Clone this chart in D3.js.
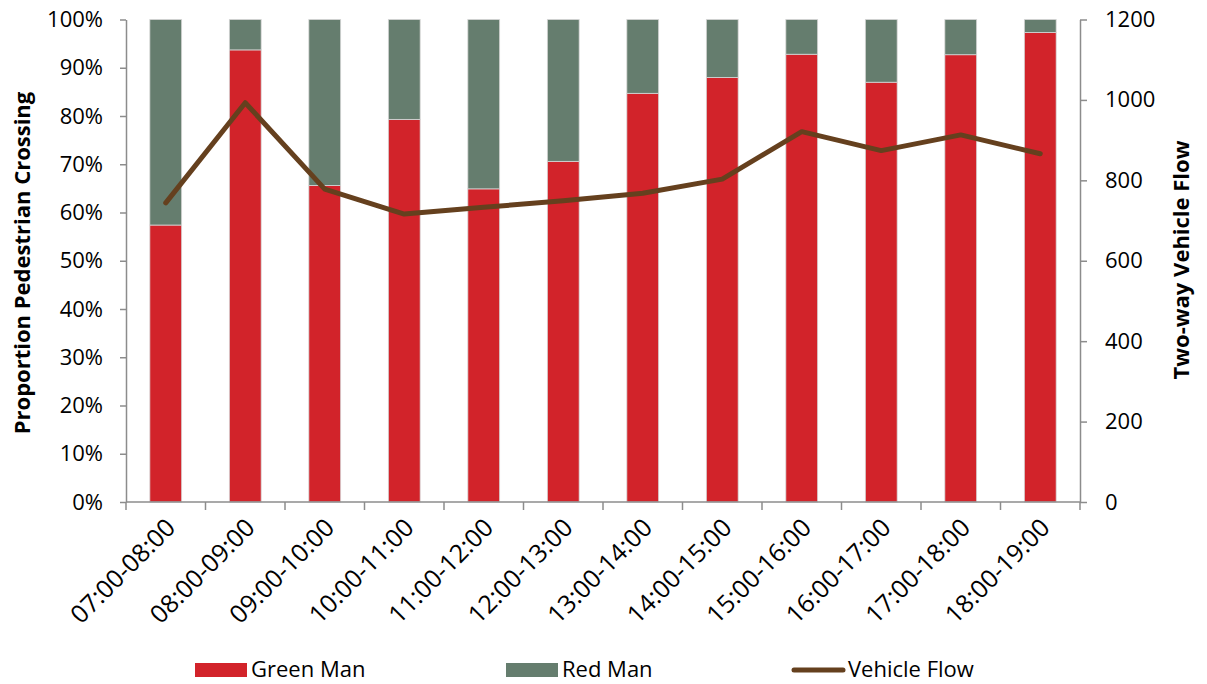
<!DOCTYPE html>
<html>
<head>
<meta charset="utf-8">
<script src="https://cdn.jsdelivr.net/npm/d3@7"></script>
<style>
  html, body { margin: 0; padding: 0; background: #fff; }
  svg { display: block; font-family: "Open Sans", "Noto Sans", sans-serif; }
</style>
</head>
<body>
<svg id="chart" width="1207" height="684"></svg>
<script>
// Hourly periods
const categories = ["07:00-08:00", "08:00-09:00", "09:00-10:00", "10:00-11:00",
  "11:00-12:00", "12:00-13:00", "13:00-14:00", "14:00-15:00",
  "15:00-16:00", "16:00-17:00", "17:00-18:00", "18:00-19:00"];

// Share of pedestrians crossing on the green man (remainder crossed on red)
const greenMan = [0.574, 0.937, 0.656, 0.793, 0.649, 0.706, 0.847, 0.880, 0.928, 0.870, 0.927, 0.973];
const redMan = greenMan.map(g => 1 - g);

// Two-way vehicle flow per hour
const vehicleFlow = [744, 993, 778, 716, 733, 749, 768, 803, 921, 874, 913, 866];

const leftTicks = [0, 0.1, 0.2, 0.3, 0.4, 0.5, 0.6, 0.7, 0.8, 0.9, 1.0];
const rightTicks = [0, 200, 400, 600, 800, 1000, 1200];

const colors = { green: "#D2232A", red: "#657D6E", line: "#65401E", axis: "#8C8C8C" };

const svg = d3.select("#chart");
const plot = { left: 126, right: 1080, top: 19.5, bottom: 502 };

const x = d3.scaleBand().domain(categories)
  .range([plot.left, plot.right]).paddingInner(0.6).paddingOuter(0.3);
const yL = d3.scaleLinear().domain([0, 1]).range([plot.bottom, plot.top]);
const yR = d3.scaleLinear().domain([0, 1200]).range([plot.bottom, plot.top]);

// Stacked bars
const rows = categories.map((c, i) => ({ cat: c, green: greenMan[i], red: redMan[i] }));
const stack = d3.stack().keys(["green", "red"])(rows);
svg.append("g").selectAll("g").data(stack).join("g")
  .attr("fill", d => colors[d.key])
  .selectAll("rect").data(d => d).join("rect")
  .attr("x", d => x(d.data.cat))
  .attr("width", x.bandwidth())
  .attr("y", d => yL(d[1]))
  .attr("height", d => yL(d[0]) - yL(d[1]))
  .attr("stroke", "#D6D6D6")
  .attr("stroke-width", 0.8);

// Axes
const fontSize = 22;
const styleAxis = g => {
  g.select(".domain").attr("stroke", colors.axis).attr("stroke-width", 1.5);
  g.selectAll(".tick line").attr("stroke", colors.axis).attr("stroke-width", 1.5);
  g.selectAll(".tick text").attr("fill", "#000").style("font-size", fontSize + "px")
    .style("font-family", '"Open Sans", sans-serif');
};

svg.append("g").attr("transform", `translate(${plot.left},0)`)
  .call(d3.axisLeft(yL).tickValues(leftTicks).tickFormat(d3.format(".0%"))
    .tickSize(6).tickSizeOuter(0).tickPadding(17))
  .call(styleAxis);

svg.append("g").attr("transform", `translate(${plot.right},0)`)
  .call(d3.axisRight(yR).tickValues(rightTicks).tickFormat(d3.format("d"))
    .tickSize(7).tickSizeOuter(0).tickPadding(18))
  .call(styleAxis);

// Category axis: ticks between the bands, labels slanted
const xAxis = svg.append("g").attr("transform", `translate(0,${plot.bottom})`);
xAxis.append("line").attr("x1", plot.left).attr("x2", plot.right)
  .attr("stroke", colors.axis).attr("stroke-width", 1.5);
const bounds = categories.map(c => x(c) - x.step() * x.paddingOuter())
  .concat([plot.right]);
xAxis.selectAll("line.tk").data(bounds).join("line").attr("class", "tk")
  .attr("x1", d => d).attr("x2", d => d).attr("y1", 0).attr("y2", 8)
  .attr("stroke", colors.axis).attr("stroke-width", 1.5);
xAxis.selectAll("text").data(categories).join("text")
  .attr("transform", d => `translate(${x(d) + x.bandwidth() / 2 + 5},${21}) rotate(-45)`)
  .attr("text-anchor", "end").attr("dy", "0.35em")
  .style("font-size", "25px").text(d => d);

// Vehicle flow line
const line = d3.line().x((d, i) => x(categories[i]) + x.bandwidth() / 2).y(d => yR(d));
svg.append("path").datum(vehicleFlow)
  .attr("d", line).attr("fill", "none")
  .attr("stroke", colors.line).attr("stroke-width", 5)
  .attr("stroke-linejoin", "round").attr("stroke-linecap", "round");

// Axis titles
svg.append("text").attr("transform", "translate(30,263) rotate(-90)")
  .attr("text-anchor", "middle").style("font-weight", "bold").style("font-size", "22px")
  .text("Proportion Pedestrian Crossing");
svg.append("text").attr("transform", "translate(1189,260) rotate(-90)")
  .attr("text-anchor", "middle").style("font-weight", "bold").style("font-size", "22px")
  .text("Two-way Vehicle Flow");

// Legend
const legend = svg.append("g").style("font-size", "22px");
legend.append("rect").attr("x", 195).attr("y", 663).attr("width", 52).attr("height", 14).attr("fill", colors.green);
legend.append("text").attr("x", 251).attr("y", 677).text("Green Man");
legend.append("rect").attr("x", 506).attr("y", 663).attr("width", 52).attr("height", 14).attr("fill", colors.red);
legend.append("text").attr("x", 562).attr("y", 677).text("Red Man");
legend.append("line").attr("x1", 794).attr("x2", 843).attr("y1", 670).attr("y2", 670)
  .attr("stroke", colors.line).attr("stroke-width", 5).attr("stroke-linecap", "round");
legend.append("text").attr("x", 848).attr("y", 677).text("Vehicle Flow");
</script>
</body>
</html>
